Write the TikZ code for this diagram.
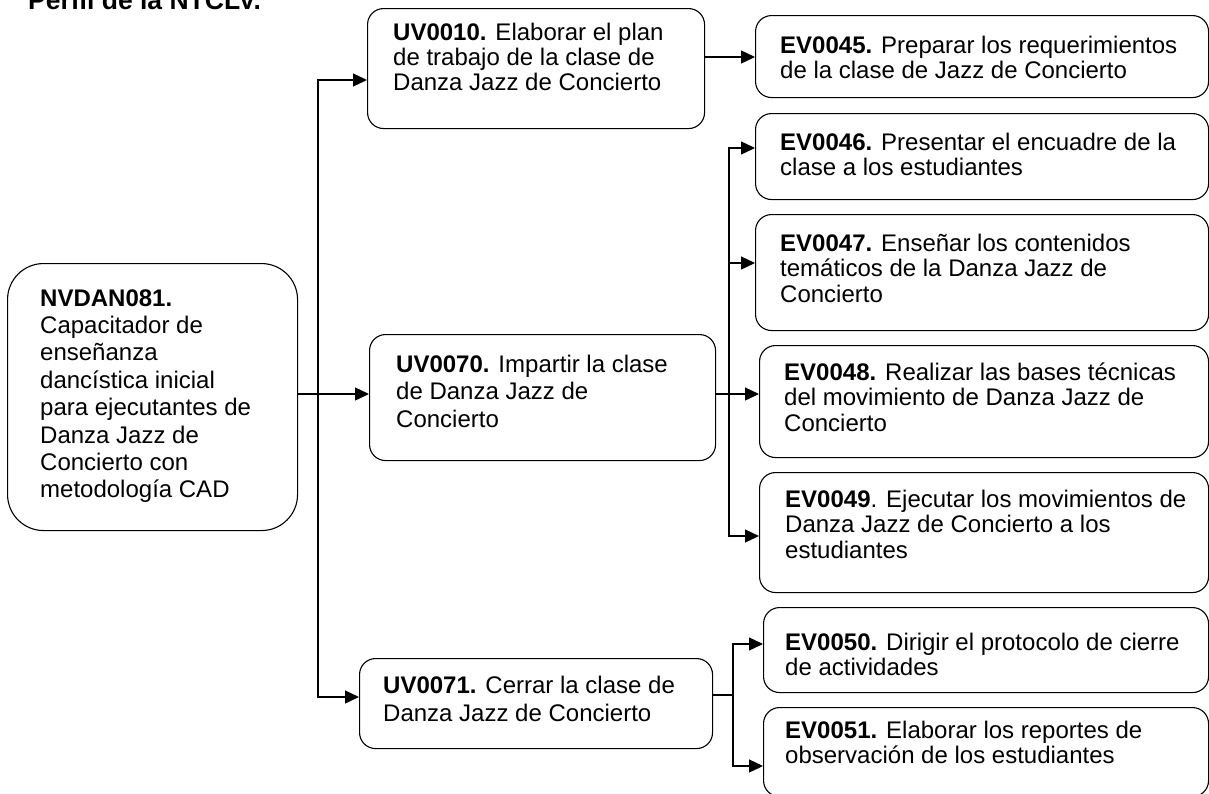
\documentclass[tikz,border=0pt]{standalone}
\usepackage{fontspec}
\setmainfont{Liberation Sans}
\usetikzlibrary{arrows.meta}
\tikzstyle{box}=[draw, line width=1.1pt, fill=white, rounded corners=16pt, inner sep=0pt, anchor=north west]
\tikzstyle{root box}=[box, rounded corners=36pt]
\tikzstyle{box text}=[inner sep=0pt, anchor=base west, font=\fontsize{24}{27.4}\selectfont]
\tikzstyle{title text}=[inner sep=0pt, anchor=base west, font=\fontsize{26.5}{30}\selectfont\bfseries]
\tikzstyle{arrow}=[draw, line width=1.3pt, -{Triangle[length=14pt,width=13pt]}]

\begin{document}
\begin{tikzpicture}[x=1pt, y=-1pt]
    \useasboundingbox (0,0) rectangle (1209,793);
    \node[title text] (title) at (28,9) {Perfil de la NTCLV.};
    % qualification box
    \node[root box, minimum width=290pt, minimum height=267pt] (root) at (7,263) {};
    \node[box text] (roottext) at (40,306) {\parbox[t]{250pt}{\raggedright\textbf{NVDAN081.}\\Capacitador de\\enseñanza\\dancística inicial\\para ejecutantes de\\Danza Jazz de\\Concierto con\\metodología CAD}};
    % units
    \foreach \name/\xa/\ya/\wa/\ha/\xt/\yt/\sk/\txt in {
        uv10/367/8/337/120/393/40/25/{\textbf{UV0010.} Elaborar el plan\\de trabajo de la clase de\\Danza Jazz de Concierto},
        uv70/369/334/346/126/396/372/27.5/{\textbf{UV0070.} Impartir la clase\\de Danza Jazz de\\Concierto},
        uv71/359/658/353/90/383/693/28/{\textbf{UV0071.} Cerrar la clase de\\Danza Jazz de Concierto}}
    {
        \node[box, minimum width=\wa pt, minimum height=\ha pt] (\name) at (\xa,\ya) {};
        \node[box text, font=\fontsize{24}{\sk}\selectfont] (\name text) at (\xt,\yt) {\parbox[t]{320pt}{\raggedright\txt}};
    }
    % elements
    \foreach \name/\xa/\ya/\wa/\ha/\xt/\yt/\txt in {
        ev45/755/15/453/82/780/53/{\textbf{EV0045.} Preparar los requerimientos\\de la clase de Jazz de Concierto},
        ev46/755/113/453/86/780/150/{\textbf{EV0046.} Presentar el encuadre de la\\clase a los estudiantes},
        ev47/755/214/453/116/780/251/{\textbf{EV0047.} Enseñar los contenidos\\temáticos de la Danza Jazz de\\Concierto},
        ev48/759/345/449/112/784/380/{\textbf{EV0048.} Realizar las bases técnicas\\del movimiento de Danza Jazz de\\Concierto},
        ev49/759/472/449/120/785/507/{\textbf{EV0049}. Ejecutar los movimientos de\\Danza Jazz de Concierto a los\\estudiantes},
        ev50/763/607/445/85/785/650/{\textbf{EV0050.} Dirigir el protocolo de cierre\\de actividades},
        ev51/763/707/445/89/785/738/{\textbf{EV0051.} Elaborar los reportes de\\observación de los estudiantes}}
    {
        \node[box, minimum width=\wa pt, minimum height=\ha pt] (\name) at (\xa,\ya) {};
        \node[box text, font=\fontsize{24}{25.5}\selectfont] (\name text) at (\xt,\yt) {\parbox[t]{415pt}{\raggedright\txt}};
    }
    % connectors
    \coordinate (trunk) at (318,394);
    \path[arrow] (root.east |- trunk) -- (uv70.west |- trunk);
    \path[arrow] (trunk) |- (uv10.west |- 0,80);
    \path[arrow] (trunk) |- (uv71.west |- 0,697);
    \path[arrow] (uv10.east |- 0,57) -- (ev45.west |- 0,57);
    \coordinate (forkB) at (729,394);
    \draw[line width=1.3pt] (uv70.east |- forkB) -- (forkB);
    \foreach \dest/\yy in {ev46/148, ev47/263, ev48/394, ev49/536}
        \path[arrow] (forkB) |- (\dest.west |- 0,\yy);
    \coordinate (forkC) at (733,695);
    \draw[line width=1.3pt] (uv71.east |- forkC) -- (forkC);
    \foreach \dest/\yy in {ev50/644, ev51/766}
        \path[arrow] (forkC) |- (\dest.west |- 0,\yy);
\end{tikzpicture}
\end{document}
